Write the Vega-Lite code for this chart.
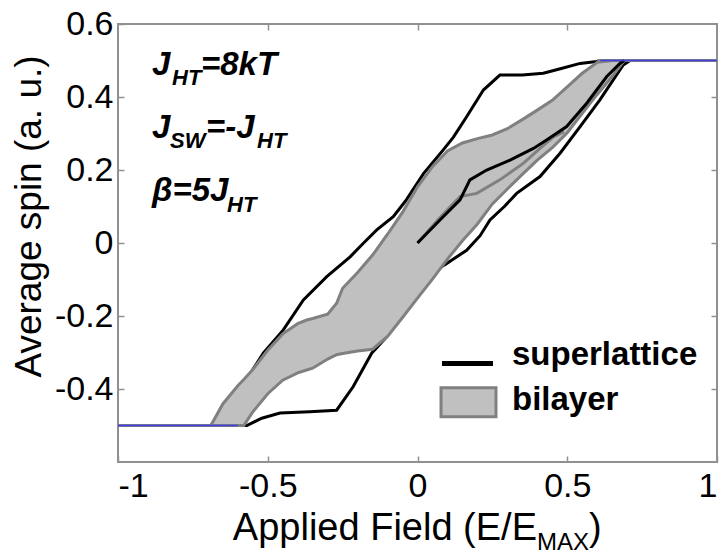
{
  "$schema": "https://vega.github.io/schema/vega-lite/v6.json",
  "width": 599,
  "height": 438,
  "autosize": {"type": "none"},
  "padding": {"left": 118, "top": 24, "right": 8, "bottom": 92},
  "config": {
    "view": {"stroke": "#909090", "strokeWidth": 2},
    "font": "Liberation Sans",
    "axis": {"grid": false, "domain": false, "tickColor": "#909090", "tickSize": -6, "tickWidth": 1.5,
      "labelFont": "Liberation Sans", "labelFontSize": 34, "labelColor": "#000000",
      "titleFont": "Liberation Sans", "titleColor": "#000000", "titleFontWeight": "normal"}
  },
  "datasets": {
    "band": [
      {"x": -0.69, "upper": -0.5, "lower": -0.5},
      {"x": -0.65, "upper": -0.441, "lower": -0.5},
      {"x": -0.6, "upper": -0.391, "lower": -0.5},
      {"x": -0.58, "upper": -0.374, "lower": -0.5},
      {"x": -0.55, "upper": -0.347, "lower": -0.463},
      {"x": -0.5, "upper": -0.294, "lower": -0.413},
      {"x": -0.45, "upper": -0.249, "lower": -0.376},
      {"x": -0.4, "upper": -0.221, "lower": -0.356},
      {"x": -0.37, "upper": -0.211, "lower": -0.348},
      {"x": -0.35, "upper": -0.207, "lower": -0.343},
      {"x": -0.3, "upper": -0.195, "lower": -0.318},
      {"x": -0.27, "upper": -0.165, "lower": -0.306},
      {"x": -0.25, "upper": -0.124, "lower": -0.303},
      {"x": -0.2, "upper": -0.081, "lower": -0.296},
      {"x": -0.15, "upper": -0.033, "lower": -0.291},
      {"x": -0.1, "upper": 0.024, "lower": -0.256},
      {"x": -0.05, "upper": 0.084, "lower": -0.204},
      {"x": 0, "upper": 0.154, "lower": -0.151},
      {"x": 0.05, "upper": 0.209, "lower": -0.099},
      {"x": 0.1, "upper": 0.252, "lower": -0.044},
      {"x": 0.15, "upper": 0.274, "lower": 0.006},
      {"x": 0.2, "upper": 0.286, "lower": 0.052},
      {"x": 0.25, "upper": 0.296, "lower": 0.107},
      {"x": 0.3, "upper": 0.313, "lower": 0.148},
      {"x": 0.35, "upper": 0.338, "lower": 0.188},
      {"x": 0.4, "upper": 0.364, "lower": 0.227},
      {"x": 0.45, "upper": 0.391, "lower": 0.261},
      {"x": 0.5, "upper": 0.428, "lower": 0.302},
      {"x": 0.55, "upper": 0.465, "lower": 0.355},
      {"x": 0.6, "upper": 0.495, "lower": 0.407},
      {"x": 0.65, "upper": 0.5, "lower": 0.456},
      {"x": 0.69, "upper": 0.5, "lower": 0.5}
    ],
    "sat": [
      {"seg": "bot", "x": -1, "y": -0.5},
      {"seg": "bot", "x": -0.69, "y": -0.5},
      {"seg": "top", "x": 0.6, "y": 0.5},
      {"seg": "top", "x": 1, "y": 0.5}
    ],
    "blue": [
      {"seg": "bot", "x": -1, "y": -0.5},
      {"seg": "bot", "x": -0.6, "y": -0.5},
      {"seg": "top", "x": 0.61, "y": 0.5},
      {"seg": "top", "x": 1, "y": 0.5}
    ],
    "bilayerInit": [
      {"i": 0, "x": 0, "y": 0},
      {"i": 1, "x": 0.075, "y": 0.07},
      {"i": 2, "x": 0.142, "y": 0.127},
      {"i": 3, "x": 0.198, "y": 0.136},
      {"i": 4, "x": 0.275, "y": 0.173},
      {"i": 5, "x": 0.353, "y": 0.218},
      {"i": 6, "x": 0.409, "y": 0.259},
      {"i": 7, "x": 0.454, "y": 0.291},
      {"i": 8, "x": 0.49, "y": 0.305}
    ],
    "superOuter": [
      {"s": "desc", "i": 0, "x": 1, "y": 0.5},
      {"s": "desc", "i": 1, "x": 0.62, "y": 0.5},
      {"s": "desc", "i": 2, "x": 0.598, "y": 0.497},
      {"s": "desc", "i": 3, "x": 0.543, "y": 0.492},
      {"s": "desc", "i": 4, "x": 0.48, "y": 0.478},
      {"s": "desc", "i": 5, "x": 0.42, "y": 0.465},
      {"s": "desc", "i": 6, "x": 0.35, "y": 0.46},
      {"s": "desc", "i": 7, "x": 0.275, "y": 0.46},
      {"s": "desc", "i": 8, "x": 0.22, "y": 0.419},
      {"s": "desc", "i": 9, "x": 0.164, "y": 0.346},
      {"s": "desc", "i": 10, "x": 0.12, "y": 0.29},
      {"s": "desc", "i": 11, "x": 0.086, "y": 0.255},
      {"s": "desc", "i": 12, "x": 0.02, "y": 0.19},
      {"s": "desc", "i": 13, "x": -0.04, "y": 0.115},
      {"s": "desc", "i": 14, "x": -0.081, "y": 0.072},
      {"s": "desc", "i": 15, "x": -0.136, "y": 0.036},
      {"s": "desc", "i": 16, "x": -0.18, "y": 0.0},
      {"s": "desc", "i": 17, "x": -0.225, "y": -0.038},
      {"s": "desc", "i": 18, "x": -0.303, "y": -0.092},
      {"s": "desc", "i": 19, "x": -0.381, "y": -0.156},
      {"s": "desc", "i": 20, "x": -0.448, "y": -0.238},
      {"s": "desc", "i": 21, "x": -0.515, "y": -0.302},
      {"s": "desc", "i": 22, "x": -0.56, "y": -0.36},
      {"s": "desc", "i": 23, "x": -0.62, "y": -0.43},
      {"s": "desc", "i": 24, "x": -0.69, "y": -0.5},
      {"s": "desc", "i": 25, "x": -1, "y": -0.5},
      {"s": "asc", "i": 0, "x": -1, "y": -0.5},
      {"s": "asc", "i": 1, "x": -0.57, "y": -0.5},
      {"s": "asc", "i": 2, "x": -0.52, "y": -0.48},
      {"s": "asc", "i": 3, "x": -0.459, "y": -0.466},
      {"s": "asc", "i": 4, "x": -0.36, "y": -0.462},
      {"s": "asc", "i": 5, "x": -0.27, "y": -0.458},
      {"s": "asc", "i": 6, "x": -0.215, "y": -0.394},
      {"s": "asc", "i": 7, "x": -0.153, "y": -0.302},
      {"s": "asc", "i": 8, "x": -0.103, "y": -0.257},
      {"s": "asc", "i": 9, "x": -0.06, "y": -0.2},
      {"s": "asc", "i": 10, "x": -0.015, "y": -0.147},
      {"s": "asc", "i": 11, "x": 0.04, "y": -0.09},
      {"s": "asc", "i": 12, "x": 0.09, "y": -0.06},
      {"s": "asc", "i": 13, "x": 0.164, "y": -0.02},
      {"s": "asc", "i": 14, "x": 0.209, "y": 0.02},
      {"s": "asc", "i": 15, "x": 0.242, "y": 0.063},
      {"s": "asc", "i": 16, "x": 0.29, "y": 0.1},
      {"s": "asc", "i": 17, "x": 0.331, "y": 0.136},
      {"s": "asc", "i": 18, "x": 0.409, "y": 0.182},
      {"s": "asc", "i": 19, "x": 0.476, "y": 0.246},
      {"s": "asc", "i": 20, "x": 0.543, "y": 0.319},
      {"s": "asc", "i": 21, "x": 0.609, "y": 0.392},
      {"s": "asc", "i": 22, "x": 0.687, "y": 0.488},
      {"s": "asc", "i": 23, "x": 0.71, "y": 0.5},
      {"s": "asc", "i": 24, "x": 1, "y": 0.5}
    ],
    "superInit": [
      {"i": 0, "x": 0, "y": 0},
      {"i": 1, "x": 0.075, "y": 0.063},
      {"i": 2, "x": 0.142, "y": 0.118},
      {"i": 3, "x": 0.175, "y": 0.173},
      {"i": 4, "x": 0.231, "y": 0.2},
      {"i": 5, "x": 0.309, "y": 0.227},
      {"i": 6, "x": 0.387, "y": 0.259},
      {"i": 7, "x": 0.431, "y": 0.282},
      {"i": 8, "x": 0.498, "y": 0.319},
      {"i": 9, "x": 0.565, "y": 0.383},
      {"i": 10, "x": 0.632, "y": 0.456},
      {"i": 11, "x": 0.676, "y": 0.492},
      {"i": 12, "x": 0.69, "y": 0.5}
    ],
    "annMain": [
      {"t": "J", "x": -0.8865, "y": 0.4616},
      {"t": "=8kT", "x": -0.7229, "y": 0.4616},
      {"t": "J", "x": -0.8865, "y": 0.289},
      {"t": "=-J", "x": -0.7062, "y": 0.289},
      {"t": "β=5J", "x": -0.8865, "y": 0.1137}
    ],
    "annSub": [
      {"t": "HT", "x": -0.8197, "y": 0.4342},
      {"t": "SW", "x": -0.8264, "y": 0.2616},
      {"t": "HT", "x": -0.5359, "y": 0.2616},
      {"t": "HT", "x": -0.6361, "y": 0.0863}
    ]
  },
  "resolve": {"axis": {"x": "independent", "y": "independent"}},
  "layer": [
    {
      "data": {"name": "superOuter"},
      "mark": {"type": "line", "color": "#000000", "strokeWidth": 3},
      "encoding": {
        "x": {"field": "x", "type": "quantitative", "scale": {"domain": [-1, 1], "nice": false, "zero": false},
          "axis": {"orient": "top", "labels": false, "title": null, "values": [-0.5, 0, 0.5]}},
        "y": {"field": "y", "type": "quantitative", "scale": {"domain": [-0.6, 0.6], "nice": false, "zero": false},
          "axis": {"orient": "right", "labels": false, "title": null, "values": [-0.4, -0.2, 0, 0.2, 0.4]}},
        "detail": {"field": "s"},
        "order": {"field": "i", "type": "quantitative"}
      }
    },
    {
      "data": {"name": "band"},
      "mark": {"type": "area", "color": "#c0c0c0", "opacity": 1},
      "encoding": {
        "x": {"field": "x", "type": "quantitative",
          "axis": {"orient": "bottom", "title": null, "values": [-1, -0.5, 0, 0.5, 1], "format": ".1~f",
            "labelExpr": "replace(datum.label, '\u2212', '-')", "labelPadding": 13}},
        "y": {"field": "upper", "type": "quantitative",
          "axis": {"orient": "left", "title": "Average spin (a. u.)", "titleFontSize": 37, "titlePadding": 6, "titleY": 192,
            "values": [-0.4, -0.2, 0, 0.2, 0.4, 0.6], "format": ".1~f",
            "labelExpr": "replace(datum.label, '\u2212', '-')", "labelPadding": 11}},
        "y2": {"field": "lower"}
      }
    },
    {
      "data": {"name": "band"},
      "mark": {"type": "line", "color": "#808080", "strokeWidth": 3},
      "encoding": {
        "x": {"field": "x", "type": "quantitative", "axis": null},
        "y": {"field": "upper", "type": "quantitative", "axis": null}
      }
    },
    {
      "data": {"name": "band"},
      "mark": {"type": "line", "color": "#808080", "strokeWidth": 3},
      "encoding": {
        "x": {"field": "x", "type": "quantitative", "axis": null},
        "y": {"field": "lower", "type": "quantitative", "axis": null}
      }
    },
    {
      "data": {"name": "sat"},
      "mark": {"type": "line", "color": "#808080", "strokeWidth": 3},
      "encoding": {
        "x": {"field": "x", "type": "quantitative", "axis": null},
        "y": {"field": "y", "type": "quantitative", "axis": null},
        "detail": {"field": "seg"}
      }
    },
    {
      "data": {"name": "bilayerInit"},
      "mark": {"type": "line", "color": "#808080", "strokeWidth": 3},
      "encoding": {
        "x": {"field": "x", "type": "quantitative", "axis": null},
        "y": {"field": "y", "type": "quantitative", "axis": null},
        "order": {"field": "i", "type": "quantitative"}
      }
    },
    {
      "data": {"name": "superInit"},
      "mark": {"type": "line", "color": "#000000", "strokeWidth": 3},
      "encoding": {
        "x": {"field": "x", "type": "quantitative", "axis": null},
        "y": {"field": "y", "type": "quantitative", "axis": null},
        "order": {"field": "i", "type": "quantitative"}
      }
    },
    {
      "data": {"name": "blue"},
      "mark": {"type": "line", "color": "#4040e0", "strokeWidth": 1.5},
      "encoding": {
        "x": {"field": "x", "type": "quantitative", "axis": null},
        "y": {"field": "y", "type": "quantitative", "axis": null},
        "detail": {"field": "seg"}
      }
    },
    {
      "data": {"values": [{"x": 0.0818, "x2": 0.2521, "y": -0.33}]},
      "mark": {"type": "rule", "color": "#000000", "strokeWidth": 5},
      "encoding": {
        "x": {"field": "x", "type": "quantitative", "axis": null},
        "x2": {"field": "x2"},
        "y": {"field": "y", "type": "quantitative", "axis": null}
      }
    },
    {
      "data": {"values": [{"x": 0.0785, "x2": 0.2621, "y": -0.3967, "y2": -0.4762}]},
      "mark": {"type": "rect", "fill": "#c0c0c0", "stroke": "#808080", "strokeWidth": 3},
      "encoding": {
        "x": {"field": "x", "type": "quantitative", "axis": null},
        "x2": {"field": "x2"},
        "y": {"field": "y", "type": "quantitative", "axis": null},
        "y2": {"field": "y2"}
      }
    },
    {
      "data": {"values": [{"t": "superlattice", "x": 0.3155, "y": -0.3356}, {"t": "bilayer", "x": 0.3155, "y": -0.4575}]},
      "mark": {"type": "text", "align": "left", "baseline": "alphabetic", "fontSize": 33, "fontWeight": "bold", "color": "#000000"},
      "encoding": {
        "x": {"field": "x", "type": "quantitative", "axis": null},
        "y": {"field": "y", "type": "quantitative", "axis": null},
        "text": {"field": "t"}
      }
    },
    {
      "data": {"name": "annMain"},
      "mark": {"type": "text", "align": "left", "baseline": "alphabetic", "fontSize": 33, "fontWeight": "bold", "fontStyle": "italic", "color": "#000000"},
      "encoding": {
        "x": {"field": "x", "type": "quantitative", "axis": null},
        "y": {"field": "y", "type": "quantitative", "axis": null},
        "text": {"field": "t"}
      }
    },
    {
      "data": {"name": "annSub"},
      "mark": {"type": "text", "align": "left", "baseline": "alphabetic", "fontSize": 22, "fontWeight": "bold", "fontStyle": "italic", "color": "#000000"},
      "encoding": {
        "x": {"field": "x", "type": "quantitative", "axis": null},
        "y": {"field": "y", "type": "quantitative", "axis": null},
        "text": {"field": "t"}
      }
    },
    {
      "data": {"values": [{"t": "Applied Field (E/E", "x": 0.399, "y": -0.815}]},
      "mark": {"type": "text", "align": "right", "baseline": "alphabetic", "fontSize": 38, "color": "#000000"},
      "encoding": {
        "x": {"field": "x", "type": "quantitative", "axis": null},
        "y": {"field": "y", "type": "quantitative", "axis": null},
        "text": {"field": "t"}
      }
    },
    {
      "data": {"values": [{"t": "MAX", "x": 0.399, "y": -0.84}]},
      "mark": {"type": "text", "align": "left", "baseline": "alphabetic", "fontSize": 24, "color": "#000000"},
      "encoding": {
        "x": {"field": "x", "type": "quantitative", "axis": null},
        "y": {"field": "y", "type": "quantitative", "axis": null},
        "text": {"field": "t"}
      }
    },
    {
      "data": {"values": [{"t": ")", "x": 0.5726, "y": -0.815}]},
      "mark": {"type": "text", "align": "left", "baseline": "alphabetic", "fontSize": 38, "color": "#000000"},
      "encoding": {
        "x": {"field": "x", "type": "quantitative", "axis": null},
        "y": {"field": "y", "type": "quantitative", "axis": null},
        "text": {"field": "t"}
      }
    }
  ]
}
